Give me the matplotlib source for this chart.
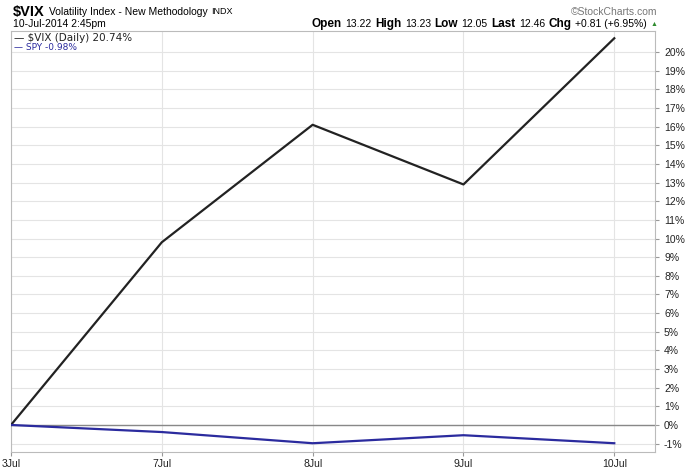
import matplotlib.pyplot as plt
import numpy as np

# Data
dates = ["3Jul", "7Jul", "8Jul", "9Jul", "10Jul"]
vix_pct = [0.0, 9.8, 16.1, 12.9, 20.74]
spy_pct = [0.0, -0.38, -0.98, -0.55, -0.98]
y_ticks = list(range(-1, 21))

W, H = 692, 469
plt.rcParams["font.family"] = ["Liberation Sans", "DejaVu Sans"]
fig = plt.figure(figsize=(W / 100, H / 100), dpi=100)
ax = fig.add_axes([11 / W, (H - 452) / H, (655 - 11) / W, (452 - 31) / H])

x = np.arange(len(dates))
ax.plot(x, vix_pct, color="#222222", lw=1.6, zorder=3)
ax.plot(x, spy_pct, color="#2b2b9e", lw=1.6, zorder=3)
ax.axhline(0, color="#888888", lw=1.0, zorder=2)

ax.set_xlim(0, 4.27)
ax.set_ylim(-1.45, 21.13)
ax.set_xticks(x)
ax.set_xticklabels(dates)
ax.set_yticks(y_ticks)
ax.set_yticklabels([f"{v}%" for v in y_ticks])
ax.yaxis.tick_right()
ax.tick_params(axis="both", labelsize=7.5, colors="#999999", labelcolor="#222222",
               length=3, width=0.8)
ax.tick_params(axis="x", pad=2)
ax.grid(True, color="#e4e4e4", lw=0.8, zorder=0)
for s in ax.spines.values():
    s.set_color("#bbbbbb")
    s.set_linewidth(0.8)

# Legend in the top-left corner
fig.text(14 / W, 1 - 38 / H, "\u2014 $VIX (Daily) 20.74%", fontsize=7.5, color="#222222",
         va="center", family="DejaVu Sans")
fig.text(14 / W, 1 - 47 / H, "\u2014 SPY -0.98%", fontsize=6.5, color="#2b2b9e",
         va="center", family="DejaVu Sans")

renderer = fig.canvas.get_renderer()


def row(items, x0, y, align="left", gap=4):
    # place text pieces one after another (pixels from top-left)
    texts = []
    for txt, size, bold, color in items:
        t = fig.text(0, 1 - y / H, txt, fontsize=size, color=color,
                     fontweight="bold" if bold else "normal", va="center")
        texts.append((t, t.get_window_extent(renderer).width))
    if align == "right":
        x0 = x0 - sum(w for _, w in texts) - gap * (len(texts) - 1)
    for t, w in texts:
        t.set_x(x0 / W)
        x0 += w + gap


row([("$VIX", 10.5, True, "black"),
     ("Volatility Index - New Methodology", 7.5, False, "black"),
     ("INDX", 6.5, False, "black")], 13, 12, gap=4)
fig.text(13 / W, 1 - 24 / H, "10-Jul-2014 2:45pm", fontsize=7.5, va="center")
fig.text(657 / W, 1 - 12 / H, "\u00a9StockCharts.com", fontsize=7.5, color="#777777",
         va="center", ha="right")

row([("Open", 8.5, True, "black"), ("13.22", 7.5, False, "black"),
     ("High", 8.5, True, "black"), ("13.23", 7.5, False, "black"),
     ("Low", 8.5, True, "black"), ("12.05", 7.5, False, "black"),
     ("Last", 8.5, True, "black"), ("12.46", 7.5, False, "black"),
     ("Chg", 8.5, True, "black"), ("+0.81 (+6.95%)", 7.5, False, "black"),
     ("\u25b2", 5, False, "#2e8b2e")], 657, 24, align="right", gap=3.5)

fig.savefig("out.png", dpi=100)
